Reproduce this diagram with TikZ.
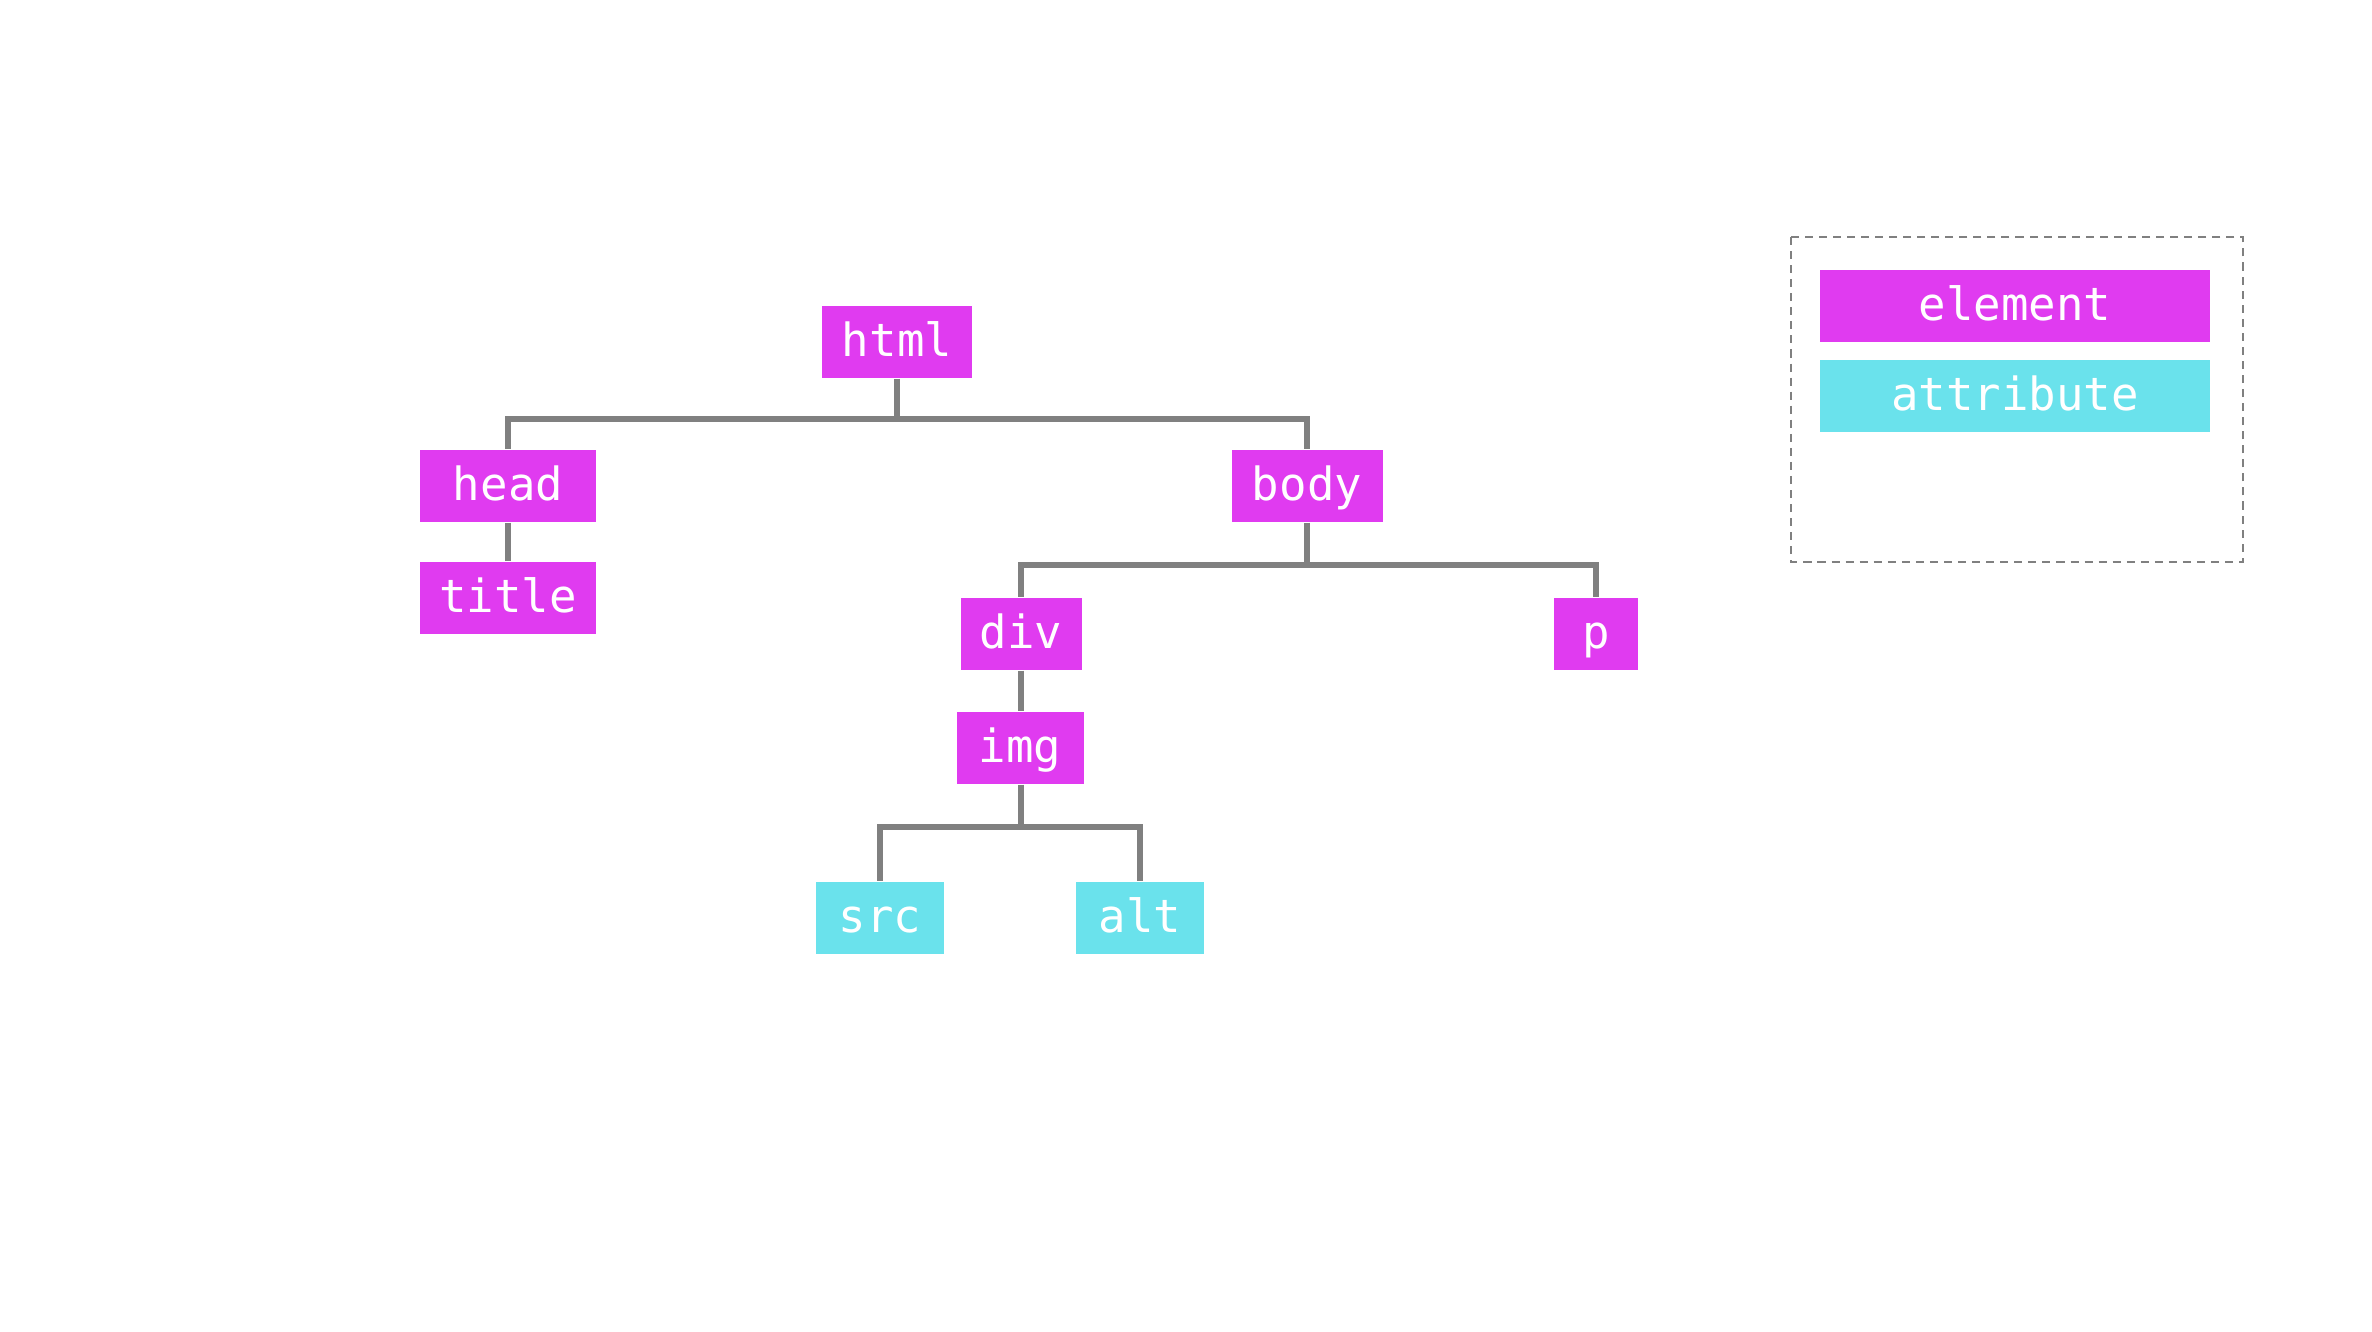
\documentclass[tikz,border=0pt]{standalone}
\usepackage{fontspec}
\setmonofont{DejaVu Sans Mono}
\usepackage{tikz}
\usetikzlibrary{arrows.meta}

\definecolor{elemcol}{RGB}{224,59,240}
\definecolor{attrcol}{RGB}{106,226,236}
\definecolor{linecol}{RGB}{128,128,128}

\tikzset{
    tag/.style={rectangle,inner sep=0pt,minimum height=0.72cm,
        text height=0.51cm,text depth=0.21cm,text=white,
        font=\ttfamily\fontsize{13pt}{15pt}\selectfont},
    elem/.style={tag,fill=elemcol},
    attr/.style={tag,fill=attrcol},
    branch/.style={draw=linecol,line width=1.7pt}
}

\begin{document}
\begin{tikzpicture}
    \useasboundingbox (0,0) rectangle (23.72,-13.32);

    % nodes
    \node (html) at (8.97,-3.42) [elem,minimum width=1.50cm] {html};
    \node (head) at (5.08,-4.86) [elem,minimum width=1.76cm] {head};
    \node (body) at (13.07,-4.86) [elem,minimum width=1.51cm] {body};
    \node (title) at (5.08,-5.98) [elem,minimum width=1.76cm] {title};
    \node (div) at (10.21,-6.34) [elem,minimum width=1.21cm] {div};
    \node (p) at (15.96,-6.34) [elem,minimum width=0.84cm] {p};
    \node (img) at (10.20,-7.48) [elem,minimum width=1.27cm] {img};
    \node (src) at (8.80,-9.18) [attr,minimum width=1.28cm] {src};
    \node (alt) at (11.40,-9.18) [attr,minimum width=1.28cm] {alt};

    % legend
    \draw[linecol,line width=0.6pt,dash pattern=on 2.3pt off 1.7pt]
        (17.91,-2.37) rectangle (22.43,-5.62);
    \node (element) at (20.15,-3.06) [elem,minimum width=3.90cm] {element};
    \node (attribute) at (20.15,-3.96) [attr,minimum width=3.90cm] {attribute};

    % joints
    \coordinate (j1) at (8.97,-4.19);
    \coordinate (j2) at (13.07,-5.65);
    \coordinate (j3) at (10.21,-8.27);

    % paths
    \draw[branch] (html.south) -- (j1) -| (head.north); % html -> head
    \draw[branch] (j1) -| (body.north); % html -> body
    \draw[branch] (head.south) -- (title.north); % head -> title
    \draw[branch] (body.south) -- (j2) -| (div.north); % body -> div
    \draw[branch] (j2) -| (p.north); % body -> p
    \draw[branch] (div.south) -- (img.north -| div.south); % div -> img
    \draw[branch] (img.south -| j3) -- (j3) -| (src.north); % img -> src
    \draw[branch] (j3) -| (alt.north); % img -> alt

\end{tikzpicture}
\end{document}
